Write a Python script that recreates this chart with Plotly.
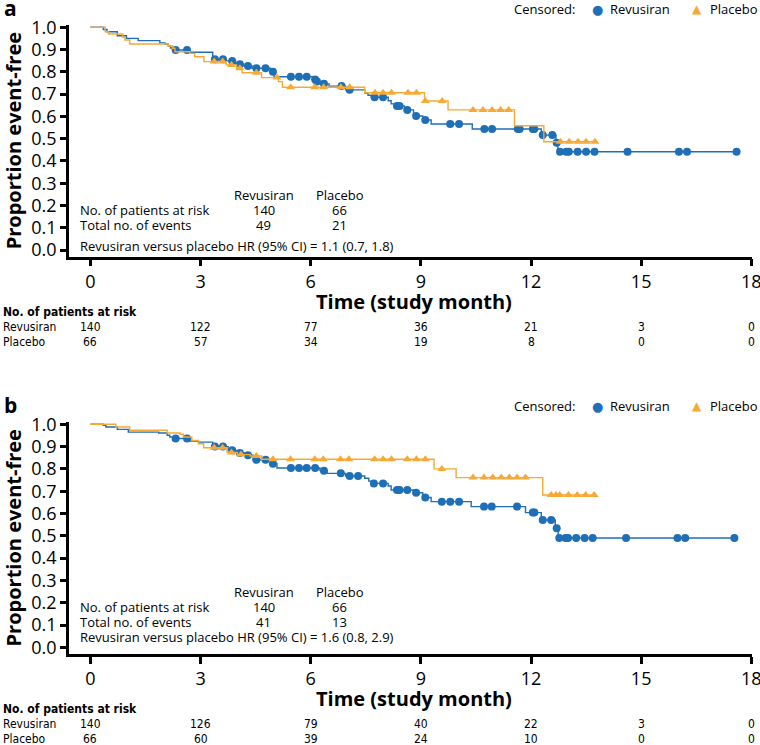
import plotly.graph_objects as go

BLUE = "#1f6fb6"
ORANGE = "#f6a935"
FONT = "Open Sans, Lato, sans-serif"
NARROW = "Liberation Sans Narrow, Arial Narrow, DejaVu Sans Condensed, sans-serif"

# ---------------- Panel a data ----------------
a_rev_t = [0, 0.35, 0.45, 0.73, 0.98, 1.30, 1.89, 2.03, 2.12, 2.18, 2.28, 2.70, 3.33, 3.70, 3.95,
           4.18, 4.40, 4.90, 5.00, 6.05, 6.15, 6.25, 6.50, 6.95, 7.47, 7.56, 7.65, 8.11, 8.19,
           8.30, 8.55, 8.80, 9.05, 9.28, 10.40, 12.28, 12.68, 12.73]
a_rev_s = [1.0, 0.99, 0.98, 0.962, 0.95, 0.94, 0.93, 0.925, 0.916, 0.907, 0.898, 0.888, 0.856, 0.849,
           0.834, 0.826, 0.816, 0.80, 0.778, 0.766, 0.756, 0.746, 0.736, 0.719, 0.705, 0.695, 0.686,
           0.67, 0.656, 0.647, 0.629, 0.602, 0.584, 0.566, 0.543, 0.516, 0.482, 0.441]
a_rev_cens = [2.32, 2.63, 3.39, 3.61, 3.86, 4.07, 4.29, 4.52, 4.77, 4.97, 5.46, 5.68, 5.89, 6.12,
              6.17, 6.36, 6.84, 7.06, 7.74, 7.97, 8.35, 8.42, 8.63, 8.87, 9.12, 9.80, 10.04, 10.73,
              10.94, 11.64, 11.69, 12.05, 12.09, 12.32, 12.58, 12.70, 12.79, 12.96, 13.03, 13.27,
              13.50, 13.73, 14.63, 16.03, 16.25, 17.60]

a_pla_t = [0, 0.40, 0.49, 0.88, 0.94, 1.07, 2.12, 2.24, 2.30, 2.71, 2.84, 3.09, 3.70, 3.98, 4.13,
           4.66, 5.12, 5.23, 7.47, 9.10, 9.74, 11.55, 12.35]
a_pla_s = [1.0, 0.98, 0.97, 0.955, 0.943, 0.925, 0.916, 0.906, 0.89, 0.883, 0.868, 0.846, 0.831,
           0.816, 0.796, 0.774, 0.756, 0.731, 0.706, 0.669, 0.629, 0.558, 0.486]
a_pla_cens = [3.37, 3.60, 3.84, 4.07, 4.52, 5.08, 5.45, 6.11, 6.35, 6.82, 7.06, 7.75, 7.97, 8.20,
              8.65, 8.88, 9.12, 9.58, 10.42, 10.69, 10.94, 11.17, 11.39, 12.80, 13.04, 13.28,
              13.50, 13.74]

# ---------------- Panel b data ----------------
b_rev_t = [0, 0.35, 0.42, 0.73, 1.03, 1.86, 2.09, 2.16, 2.28, 2.71, 2.94, 3.33, 3.75, 3.98, 4.20,
           4.43, 4.90, 5.08, 6.25, 6.44, 6.95, 7.47, 7.58, 7.66, 8.11, 8.19, 8.80, 9.05, 9.28,
           10.37, 11.85, 12.28, 12.66, 12.74]
b_rev_s = [1.0, 0.995, 0.988, 0.977, 0.965, 0.961, 0.951, 0.943, 0.936, 0.925, 0.92, 0.90, 0.883,
           0.871, 0.861, 0.841, 0.823, 0.804, 0.792, 0.78, 0.768, 0.758, 0.745, 0.735, 0.723, 0.705,
           0.693, 0.672, 0.653, 0.631, 0.604, 0.571, 0.534, 0.49]
b_rev_cens = [2.32, 2.63, 3.39, 3.61, 3.86, 4.07, 4.29, 4.52, 4.77, 4.97, 5.46, 5.68, 5.89, 6.12,
              6.36, 6.82, 7.06, 7.29, 7.72, 7.97, 8.35, 8.42, 8.63, 8.87, 9.12, 9.57, 9.80, 10.04,
              10.72, 10.93, 11.62, 12.05, 12.09, 12.32, 12.55, 12.70, 12.77, 12.94, 13.01, 13.23,
              13.46, 13.68, 14.59, 15.99, 16.20, 17.54]

b_pla_t = [0, 0.69, 1.07, 2.09, 2.44, 2.53, 2.76, 2.94, 3.08, 3.72, 4.00, 4.35, 4.66, 9.36, 9.96, 12.32]
b_pla_s = [1.0, 0.988, 0.973, 0.961, 0.955, 0.943, 0.928, 0.913, 0.895, 0.874, 0.864, 0.858, 0.843,
           0.80, 0.761, 0.683]
b_pla_cens = [3.37, 3.60, 3.84, 4.10, 4.52, 4.97, 5.45, 6.11, 6.34, 6.81, 7.04, 7.74, 7.97, 8.20,
              8.63, 8.88, 9.12, 9.57, 10.42, 10.72, 10.96, 11.19, 11.41, 11.62, 11.85, 12.55, 12.68,
              12.78, 13.02, 13.26, 13.49, 13.72]

# ---------------- Tables ----------------
risk_times = [0, 3, 6, 9, 12, 15, 18]
a_rev_risk = [140, 122, 77, 36, 21, 3, 0]
a_pla_risk = [66, 57, 34, 19, 8, 0, 0]
b_rev_risk = [140, 126, 79, 40, 22, 3, 0]
b_pla_risk = [66, 60, 39, 24, 10, 0, 0]

arms = ["Revusiran", "Placebo"]
summary_rows = ["No. of patients at risk", "Total no. of events"]
a_summary = [[140, 66], [49, 21]]
b_summary = [[140, 66], [41, 13]]
a_hr = "Revusiran versus placebo HR (95% CI) = 1.1 (0.7, 1.8)"
b_hr = "Revusiran versus placebo HR (95% CI) = 1.6 (0.8, 2.9)"

x_ticks = [0, 3, 6, 9, 12, 15, 18]
y_ticks = [0.0, 0.1, 0.2, 0.3, 0.4, 0.5, 0.6, 0.7, 0.8, 0.9, 1.0]


def step_value(times, surv, t):
    v = surv[0]
    for ti, si in zip(times, surv):
        if ti <= t:
            v = si
    return v


fig = go.Figure()


def add_arm(times, surv, cens, color, symbol, size, xa, ya):
    end = max(cens)
    xs = list(times) + [end]
    ys = list(surv) + [surv[-1]]
    fig.add_trace(go.Scatter(x=xs, y=ys, mode="lines", line=dict(color=color, width=1.4, shape="hv"),
                             xaxis=xa, yaxis=ya, showlegend=False, hoverinfo="skip"))
    fig.add_trace(go.Scatter(x=cens, y=[step_value(times, surv, c) for c in cens], mode="markers",
                             marker=dict(color=color, symbol=symbol, size=size, line=dict(width=0)),
                             xaxis=xa, yaxis=ya, showlegend=False))


add_arm(a_rev_t, a_rev_s, a_rev_cens, BLUE, "circle", 8, "x", "y")
add_arm(a_pla_t, a_pla_s, a_pla_cens, ORANGE, "triangle-up", 8, "x", "y")
add_arm(b_rev_t, b_rev_s, b_rev_cens, BLUE, "circle", 8, "x2", "y2")
add_arm(b_pla_t, b_pla_s, b_pla_cens, ORANGE, "triangle-up", 8, "x2", "y2")

W, H = 760, 745


def py(p):
    return 1 - p / H


xcommon = dict(range=[-0.585, 18.02], tickvals=x_ticks, ticks="outside", ticklen=7, tickwidth=2.5,
               tickcolor="black", showline=True, linewidth=2.5, linecolor="black", showgrid=False,
               zeroline=False, tickfont=dict(family=FONT, size=18, color="black"),
               ticklabeloverflow="allow",
               domain=[69 / W, 752 / W], automargin=False)
ycommon = dict(range=[-0.03, 1.012], tickvals=y_ticks, tickformat=".1f", ticks="outside", ticklen=6,
               tickwidth=2.5, tickcolor="black", showline=True, linewidth=2.5, linecolor="black",
               showgrid=False, zeroline=False, tickfont=dict(family=FONT, size=18, color="black"),
               automargin=False,
               title=dict(text="<b>Proportion event-free</b>", font=dict(family=FONT, size=20, color="black"),
                          standoff=6))

fig.update_layout(
    width=W, height=H, autosize=False, margin=dict(l=0, r=0, t=0, b=0, autoexpand=False),
    paper_bgcolor="white", plot_bgcolor="white", showlegend=False,
    xaxis=dict(xcommon, anchor="y"),
    yaxis=dict(ycommon, anchor="x", domain=[py(256.7), py(24.6)]),
    xaxis2=dict(xcommon, anchor="y2"),
    yaxis2=dict(ycommon, anchor="x2", domain=[py(654.0), py(421.6)]),
)

ann = []
panels = [
    ("a", "x", "y", 0, a_summary, a_hr, 0.02, a_rev_risk, a_pla_risk),
    ("b", "x2", "y2", 397, b_summary, b_hr, 0.047, b_rev_risk, b_pla_risk),
]
for label, xa, ya, off, summ, hr, hr_y, rev_risk, pla_risk in panels:
    tf = dict(family=FONT, size=13, color="black")
    # panel letter
    ann.append(dict(text=f"<b>{label}</b>", xref="paper", yref="paper", x=2 / W, y=py(8 + off),
                    xanchor="left", yanchor="middle", showarrow=False,
                    font=dict(family=FONT, size=21, color="black")))
    # censored legend
    ly = py(9 + off)
    ann.append(dict(text="Censored:", xref="paper", yref="paper", x=512 / W, y=ly, xanchor="left",
                    yanchor="middle", showarrow=False, font=tf))
    ann.append(dict(text="●", xref="paper", yref="paper", x=597 / W, y=ly, xanchor="center",
                    yanchor="middle", showarrow=False, font=dict(family="DejaVu Sans", size=13, color=BLUE)))
    ann.append(dict(text="Revusiran", xref="paper", yref="paper", x=608 / W, y=ly, xanchor="left",
                    yanchor="middle", showarrow=False, font=tf))
    ann.append(dict(text="▲", xref="paper", yref="paper", x=697 / W, y=ly, xanchor="center",
                    yanchor="middle", showarrow=False, font=dict(family="DejaVu Sans", size=12, color=ORANGE)))
    ann.append(dict(text="Placebo", xref="paper", yref="paper", x=708 / W, y=ly, xanchor="left",
                    yanchor="middle", showarrow=False, font=tf))
    # in-plot summary table
    for arm, xc in zip(arms, [4.72, 6.79]):
        ann.append(dict(text=arm, xref=xa, yref=ya, x=xc, y=0.247, xanchor="center", yanchor="middle",
                        showarrow=False, font=tf))
    for row, vals, yv in zip(summary_rows, summ, [0.18, 0.112]):
        ann.append(dict(text=row, xref=xa, yref=ya, x=-0.34, y=yv, xanchor="left", yanchor="middle",
                        showarrow=False, font=tf))
        for v, xc in zip(vals, [4.72, 6.79]):
            ann.append(dict(text=str(v), xref=xa, yref=ya, x=xc, y=yv, xanchor="center",
                            yanchor="middle", showarrow=False, font=tf))
    ann.append(dict(text=hr, xref=xa, yref=ya, x=-0.34, y=hr_y, xanchor="left", yanchor="middle",
                    showarrow=False, font=tf))
    # x-axis title
    ann.append(dict(text="<b>Time (study month)</b>", xref="paper", yref="paper", x=414 / W,
                    y=py(301 + off), xanchor="center", yanchor="middle", showarrow=False,
                    font=dict(family=FONT, size=20, color="black")))
    # risk table below
    rf = dict(family=NARROW, size=12, color="black")
    ann.append(dict(text="<b>No. of patients at risk</b>", xref="paper", yref="paper", x=1 / W,
                    y=py(312 + off), xanchor="left", yanchor="middle", showarrow=False, font=rf))
    for arm, risks, ry in zip(arms, [rev_risk, pla_risk], [327, 342]):
        ann.append(dict(text=arm, xref="paper", yref="paper", x=1 / W, y=py(ry + off), xanchor="left",
                        yanchor="middle", showarrow=False, font=rf))
        for t, r in zip(risk_times, risks):
            ann.append(dict(text=str(r), xref=xa, yref="paper", x=t, y=py(ry + off), xanchor="center",
                            yanchor="middle", showarrow=False, font=rf))

fig.update_layout(annotations=ann)
fig.write_html("out.html", config={"displayModeBar": False},
               post_script="document.body.style.margin='0';document.body.style.padding='0';"
                           "document.body.style.overflow='hidden';")
